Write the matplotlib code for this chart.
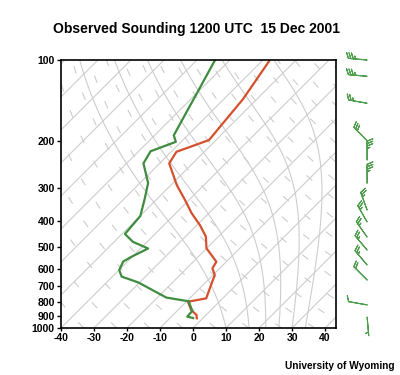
import numpy as np
import matplotlib
matplotlib.use("Agg")
import matplotlib.pyplot as plt
from matplotlib.transforms import Affine2D

# ---------------- data ----------------
t_pres = [920, 894, 857, 798, 775, 634, 599, 566, 504, 456, 413, 373, 333, 293,
          243, 220, 199, 140, 100]
t_vals = [-1.8, -2.9, -6.0, -9.5, -5.0, -9.5, -12.2, -13.0, -20.1, -23.8, -29.1,
          -35.2, -41.2, -48.2, -57.1, -58.4, -52.1, -54.2, -57.9]

td_pres = [918, 907, 864, 795, 770, 676, 643, 608, 565, 542, 505, 477, 446, 382,
           333, 288, 243, 219, 202, 191, 100]
td_vals = [-3.0, -5.2, -5.4, -9.4, -17.3, -30.4, -37.2, -39.9, -41.3, -40.2, -37.7,
           -44.3, -49.1, -49.9, -53.5, -57.5, -64.9, -66.4, -61.6, -64.2, -74.5]

barb_pres = [100, 115, 145, 200, 236, 288, 363, 402, 458, 512, 582, 662, 820, 910]
barb_dir = [275, 275, 280, 315, 360, 360, 340, 330, 325, 320, 320, 315, 280, 175]
barb_spd = [35, 35, 25, 30, 35, 35, 25, 25, 25, 25, 25, 20, 10, 5]

p_ticks = [100, 200, 300, 400, 500, 600, 700, 800, 900, 1000]
t_ticks = [-40, -30, -20, -10, 0, 10, 20, 30, 40]

iso_temps = list(range(-130, 50, 10))
dry_thetas = list(range(230, 470, 10))
moist_t1000 = [10, 17, 22, 26, 30, 34]

title = "Observed Sounding 1200 UTC  15 Dec 2001"
credit = "University of Wyoming"

# ---------------- style ----------------
FONT = ["Liberation Sans", "DejaVu Sans"]
RED = "#d4502f"
GREEN = "#3f8c3f"
BARB = "#4e9e4e"
GRID = "#cdcdcd"

fig = plt.figure(figsize=(4.0, 3.75), dpi=100)
ax = fig.add_axes([61 / 400, 47 / 375, 275 / 400, 268 / 375])
ax.set_yscale("log")
ax.set_ylim(1000, 100)
ax.set_xlim(-40, 43.3)

y0 = ax.bbox.y0
skew = ax.transData + Affine2D().translate(0, -y0).skew_deg(45, 0).translate(0, y0)

pgrid = np.linspace(1000, 100, 361)

# isotherms
for T in iso_temps:
    ax.plot([T, T], [1000, 100], color=GRID, lw=0.8, transform=skew, zorder=1)

# dry adiabats (dashed)
for th in dry_thetas:
    T = th * (pgrid / 1000.0) ** 0.2857 - 273.15
    ax.plot(T, pgrid, color=GRID, lw=0.8, transform=skew, zorder=1,
            dashes=(7, 18))

# moist adiabats
Rd, cp, Lv, eps = 287.04, 1005.7, 2.501e6, 0.622


def dTdp(T, p):
    es = 6.112 * np.exp(17.67 * (T - 273.15) / (T - 29.65))
    rs = eps * es / (p - es)
    return (Rd * T + Lv * rs) / (cp + Lv * Lv * rs * eps / (Rd * T * T)) / p


for t0 in moist_t1000:
    T = t0 + 273.15
    Ts = [T]
    for i in range(len(pgrid) - 1):
        p, h = pgrid[i], pgrid[i + 1] - pgrid[i]
        k1 = dTdp(T, p)
        k2 = dTdp(T + h * k1 / 2, p + h / 2)
        k3 = dTdp(T + h * k2 / 2, p + h / 2)
        k4 = dTdp(T + h * k3, p + h)
        T = T + h * (k1 + 2 * k2 + 2 * k3 + k4) / 6
        Ts.append(T)
    ax.plot(np.array(Ts) - 273.15, pgrid, color=GRID, lw=0.8, transform=skew, zorder=1)

# soundings
ax.plot(t_vals, t_pres, color=RED, lw=1.6, transform=skew, zorder=3)
ax.plot(td_vals, td_pres, color=GREEN, lw=1.6, transform=skew, zorder=3)

# wind barbs
spd = np.array(barb_spd, float)
d = np.radians(barb_dir)
u = -spd * np.sin(d)
v = -spd * np.cos(d)
bx = np.full(len(barb_pres), -40 + (367 - 61) / 3.3)
b = ax.barbs(bx, barb_pres, u, v, length=5.2, color=BARB, linewidth=0.8,
             sizes=dict(height=0.3, spacing=0.13), transform=ax.transData)
b.set_clip_on(False)

# axes formatting
ax.set_yticks(p_ticks)
ax.set_yticklabels([str(p) for p in p_ticks])
ax.yaxis.set_minor_locator(matplotlib.ticker.NullLocator())
ax.set_xticks(t_ticks)
ax.set_xticklabels([str(t) for t in t_ticks])
ax.tick_params(axis="y", direction="out", length=3, width=1, pad=1.5,
               labelsize=7.5)
ax.tick_params(axis="x", direction="out", length=2, width=1, pad=1.5,
               labelsize=7.5)
for lab in ax.get_xticklabels() + ax.get_yticklabels():
    lab.set_fontweight("bold")
    lab.set_family(FONT)
for s in ax.spines.values():
    s.set_linewidth(1.2)
    s.set_zorder(5)

fig.text(0.492, 0.922, title, ha="center", va="center", fontsize=10,
         fontweight="bold", family=FONT)
fig.text(0.9875, 0.024, credit, ha="right", va="center", fontsize=7.3,
         fontweight="bold", family=FONT)

fig.savefig("out.png", dpi=100)
